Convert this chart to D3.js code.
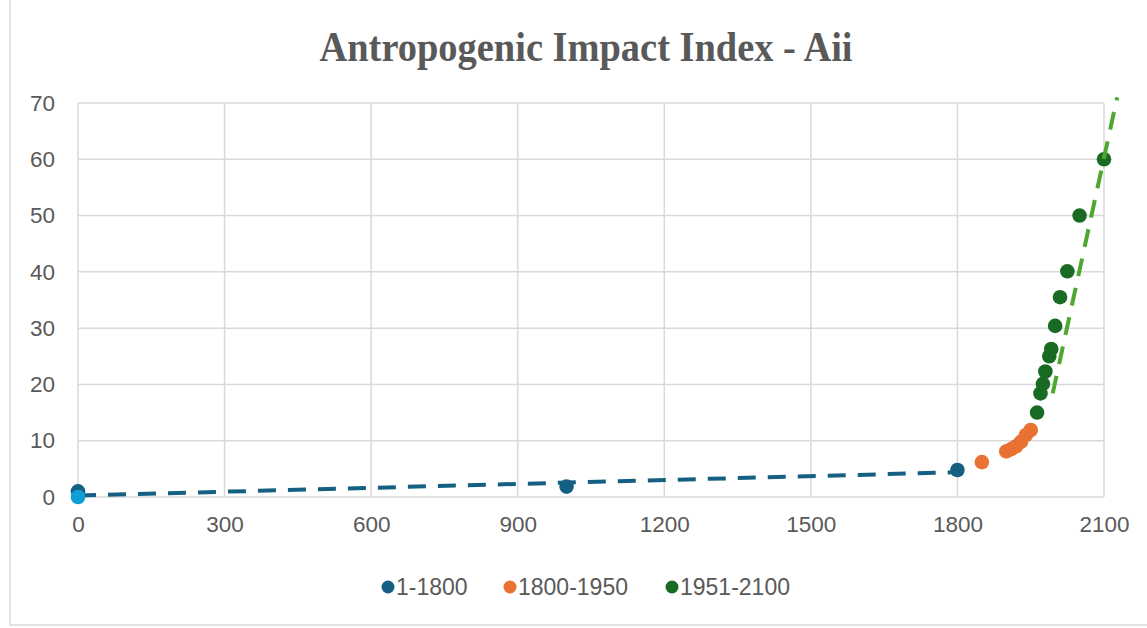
<!DOCTYPE html>
<html><head><meta charset="utf-8">
<script src="https://cdn.jsdelivr.net/npm/d3@7"></script>
<style>body{margin:0;background:#fff}svg{display:block}</style>
</head><body>
<svg id="c" width="1147" height="628"></svg>
<script>
const title = "Antropogenic Impact Index - Aii";
const xTicks = [0,300,600,900,1200,1500,1800,2100];
const yTicks = [0,10,20,30,40,50,60,70];
const seriesNames = ["1-1800","1800-1950","1951-2100"];
const seriesColors = ["#156082","#E97132","#196B24"];
const blueX = [0,1000,1800];
const blueY = [1,1.85,4.8];
const extraX = [0];
const extraY = [0];
const orangeX = [1850,1900,1910,1920,1930,1940,1950];
const orangeY = [6.2,8.1,8.5,9.0,9.8,11.0,11.9];
const greenX = [1963,1970,1975,1980,1988,1992,2000,2010,2025,2050,2100];
const greenY = [15,18.4,20.1,22.3,25,26.3,30.4,35.5,40.1,50,60];
const blueTrendX = [0,1800];
const blueTrendY = [0.25,4.4];
const greenTrendX = [1995,2127];
const greenTrendY = [18.4,71];

const svg = d3.select("#c");
const x = d3.scaleLinear().domain([0,2100]).range([78,1104]);
const y = d3.scaleLinear().domain([0,70]).range([497,103]);

svg.append("path").attr("d","M10,0V625H1147").attr("fill","none").attr("stroke","#d9d9d9").attr("stroke-width",1.5);

svg.append("text").attr("x",586).attr("y",61).attr("text-anchor","middle")
  .attr("font-family","Liberation Serif").attr("font-weight","bold").attr("font-size",43)
  .attr("textLength",533).attr("lengthAdjust","spacingAndGlyphs")
  .attr("fill","#595959").text(title);

const grid = svg.append("g").attr("stroke","#d9d9d9").attr("stroke-width",1.5);
grid.selectAll(".h").data(yTicks).join("line").attr("x1",x(0)).attr("x2",x(2100)).attr("y1",d=>y(d)).attr("y2",d=>y(d));
grid.selectAll(".v").data(xTicks).join("line").attr("y1",y(0)).attr("y2",y(70)).attr("x1",d=>x(d)).attr("x2",d=>x(d));

const xa = svg.append("g").attr("transform",`translate(0,${y(0)})`)
  .call(d3.axisBottom(x).tickValues(xTicks).tickSize(0).tickPadding(19).tickFormat(d3.format("d")));
const ya = svg.append("g").attr("transform",`translate(${x(0)},0)`)
  .call(d3.axisLeft(y).tickValues(yTicks).tickSize(0).tickPadding(23).tickFormat(d3.format("d")));
[xa,ya].forEach(a=>{a.select(".domain").remove();a.selectAll("text").attr("font-family","Liberation Sans").attr("font-size",22.5).attr("fill","#595959");});

const line = d3.line().x(d=>x(d[0])).y(d=>y(d[1]));
svg.append("path").datum(blueTrendX.map((v,i)=>[v,blueTrendY[i]])).attr("d",line)
  .attr("fill","none").attr("stroke","#156082").attr("stroke-width",4).attr("stroke-dasharray","18,12");

const pts = (xs,ys)=>xs.map((v,i)=>[v,ys[i]]);
const groups = [[blueX,blueY,seriesColors[0]],[extraX,extraY,"#0F9ED5"],[orangeX,orangeY,seriesColors[1]],[greenX,greenY,seriesColors[2]]];
groups.forEach(([xs,ys,c])=>{
  svg.append("g").selectAll("circle").data(pts(xs,ys)).join("circle")
    .attr("cx",d=>x(d[0])).attr("cy",d=>y(d[1])).attr("r",7.3).attr("fill",c);
});

svg.append("path").datum(greenTrendX.map((v,i)=>[v,greenTrendY[i]])).attr("d",line)
  .attr("fill","none").attr("stroke","#4EA72E").attr("stroke-width",4).attr("stroke-dasharray","18,12");

const legX = [388,510,672];
const lg = svg.append("g");
seriesNames.forEach((n,i)=>{
  lg.append("circle").attr("cx",legX[i]).attr("cy",587).attr("r",6.5).attr("fill",seriesColors[i]);
  lg.append("text").attr("x",legX[i]+8).attr("y",587).attr("dy","0.36em")
    .attr("font-family","Liberation Sans").attr("font-size",23).attr("fill","#595959").text(n);
});
</script>
</body></html>
